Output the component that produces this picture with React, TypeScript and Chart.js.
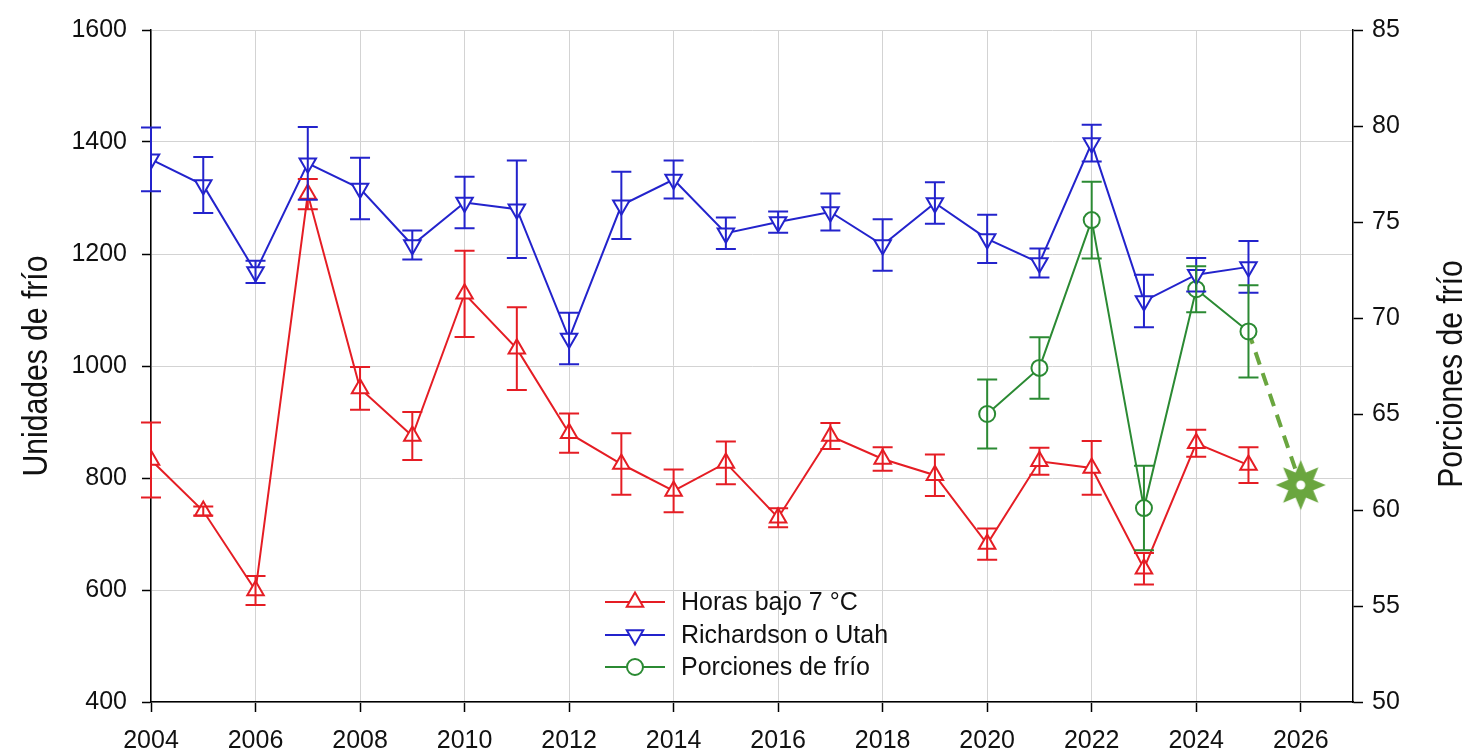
import { useEffect, useRef } from "react";
import { Chart, registerables } from "chart.js";

Chart.register(...registerables);

// Years of observation
const years = [
  2004, 2005, 2006, 2007, 2008, 2009, 2010, 2011, 2012, 2013, 2014,
  2015, 2016, 2017, 2018, 2019, 2020, 2021, 2022, 2023, 2024, 2025,
];

// Horas bajo 7 °C (left axis) and their error bars
const horasBajo7 = [
  832, 741, 599, 1307, 960, 875, 1129, 1031, 880, 825, 777,
  827, 729, 875, 834, 805, 682, 830, 818, 638, 862, 823,
];
const horasErr = [
  67, 8, 26, 27, 38, 43, 77, 74, 35, 55, 38,
  38, 17, 23, 21, 37, 28, 24, 48, 28, 24, 32,
];

// Richardson o Utah units (left axis) and their error bars
const richardson = [
  1369, 1323, 1168, 1362, 1317, 1216, 1292, 1280, 1049, 1287, 1333,
  1237, 1257, 1275, 1216, 1291, 1227, 1184, 1398, 1116, 1163, 1177,
];
const richardsonErr = [
  57, 50, 20, 65, 55, 26, 46, 87, 46, 60, 34,
  28, 19, 33, 46, 37, 43, 26, 33, 47, 30, 46,
];

// Porciones de frío (right axis) and their error bars
const porcionesYears = [2020, 2021, 2022, 2023, 2024, 2025];
const porciones = [65.0, 67.4, 75.1, 60.1, 71.5, 69.3];
const porcionesErr = [1.8, 1.6, 2.0, 2.2, 1.2, 2.4];

// Projection for the next season
const projectionYears = [2025, 2026];
const projection = [69.3, 61.3];

// Axis ranges and tick steps
const xRange = [2004, 2027];
const xStep = 2;
const leftRange = [400, 1600];
const leftStep = 200;
const rightRange = [50, 85];
const rightStep = 5;

// Text
const leftTitle = "Unidades de frío";
const rightTitle = "Porciones de frío";
const legendLabels = ["Horas bajo 7 °C", "Richardson o Utah", "Porciones de frío"];

const RED = "#e51d24";
const BLUE = "#2323cc";
const GREEN = "#2b8a33";
const LIGHT_GREEN = "#6aa63f";

const FONT = '"Liberation Sans", Arial, sans-serif';

const TRI_R = 9.5;
const CIRC_R = 8;

const toPoints = (xs: number[], ys: number[]) => xs.map((x, i) => ({ x, y: ys[i] }));

function makeStar(outer: number, inner: number, color: string): HTMLCanvasElement {
  const size = Math.ceil(outer * 2 + 4);
  const c = document.createElement("canvas");
  c.width = size;
  c.height = size;
  const g = c.getContext("2d")!;
  const cx = size / 2;
  const cy = size / 2;
  g.beginPath();
  for (let i = 0; i < 16; i++) {
    const r = i % 2 === 0 ? outer : inner;
    const a = -Math.PI / 2 + (i * Math.PI) / 8;
    const px = cx + r * Math.cos(a);
    const py = cy + r * Math.sin(a);
    if (i === 0) g.moveTo(px, py);
    else g.lineTo(px, py);
  }
  g.closePath();
  g.fillStyle = color;
  g.fill();
  g.beginPath();
  g.arc(cx, cy, 4.5, 0, Math.PI * 2);
  g.fillStyle = "#ffffff";
  g.fill();
  return c;
}

const errorBarPlugin = {
  id: "errorBars",
  afterDatasetsDraw(chart: any) {
    const ctx = chart.ctx;
    chart.data.datasets.forEach((ds: any, di: number) => {
      const errs: number[] | undefined = ds.errorBars;
      if (!errs) return;
      const meta = chart.getDatasetMeta(di);
      const yScale = chart.scales[meta.yAxisID];
      const cap = 10;
      ctx.save();
      ctx.strokeStyle = ds.borderColor;
      ctx.lineWidth = 2;
      meta.data.forEach((pt: any, i: number) => {
        const v = ds.data[i].y;
        const e = errs[i];
        const yTop = yScale.getPixelForValue(v + e);
        const yBot = yScale.getPixelForValue(v - e);
        const x = pt.x;
        ctx.beginPath();
        ctx.moveTo(x, yTop);
        ctx.lineTo(x, yBot);
        ctx.moveTo(x - cap, yTop);
        ctx.lineTo(x + cap, yTop);
        ctx.moveTo(x - cap, yBot);
        ctx.lineTo(x + cap, yBot);
        ctx.stroke();
      });
      ctx.restore();
    });
  },
};

// Axis titles, both reading upwards, in a condensed face
const axisTitlePlugin = {
  id: "axisTitles",
  afterDraw(chart: any) {
    const ctx = chart.ctx;
    const area = chart.chartArea;
    const midY = (area.top + area.bottom) / 2;
    ctx.save();
    ctx.fillStyle = "#111";
    ctx.font = `35px ${FONT}`;
    ctx.textAlign = "center";
    ctx.textBaseline = "alphabetic";
    const draw = (text: string, baselineX: number, cy: number) => {
      ctx.save();
      ctx.translate(baselineX, cy);
      ctx.rotate(-Math.PI / 2);
      ctx.scale(0.86, 1);
      ctx.fillText(text, 0, 0);
      ctx.restore();
    };
    draw(leftTitle, 47, midY);
    draw(rightTitle, 1462, midY + 8);
    ctx.restore();
  },
};

function drawMarker(ctx: CanvasRenderingContext2D, kind: string, x: number, y: number, color: string) {
  ctx.beginPath();
  if (kind === "circle") {
    ctx.arc(x, y, CIRC_R, 0, Math.PI * 2);
  } else {
    const r = TRI_R;
    const dir = kind === "up" ? -1 : 1;
    for (let k = 0; k < 3; k++) {
      const a = (k * 2 * Math.PI) / 3;
      const px = x + Math.sin(a) * r;
      const py = y + dir * Math.cos(a) * r;
      if (k === 0) ctx.moveTo(px, py);
      else ctx.lineTo(px, py);
    }
    ctx.closePath();
  }
  ctx.fillStyle = "#fff";
  ctx.fill();
  ctx.strokeStyle = color;
  ctx.lineWidth = 2;
  ctx.stroke();
}

const legendPlugin = {
  id: "insideLegend",
  afterDraw(chart: any) {
    const ctx = chart.ctx;
    const items = [
      { label: legendLabels[0], color: RED, kind: "up" },
      { label: legendLabels[1], color: BLUE, kind: "down" },
      { label: legendLabels[2], color: GREEN, kind: "circle" },
    ];
    const x0 = 605;
    const x1 = 665;
    const tx = 681;
    const rows = [602, 635, 667];
    ctx.save();
    ctx.font = `25px ${FONT}`;
    ctx.textBaseline = "middle";
    ctx.textAlign = "left";
    items.forEach((it, i) => {
      const y = rows[i];
      ctx.beginPath();
      ctx.moveTo(x0, y);
      ctx.lineTo(x1, y);
      ctx.strokeStyle = it.color;
      ctx.lineWidth = 2;
      ctx.stroke();
      drawMarker(ctx, it.kind, (x0 + x1) / 2, y, it.color);
      ctx.fillStyle = "#111";
      ctx.fillText(it.label, tx, y + 1);
    });
    ctx.restore();
  },
};

export default function App() {
  const canvasRef = useRef<HTMLCanvasElement | null>(null);

  useEffect(() => {
    const canvas = canvasRef.current;
    if (!canvas) return;
    const star = makeStar(25, 13.5, LIGHT_GREEN);

    const tickFont = { family: FONT, size: 25 };

    const chart = new Chart(canvas, {
      type: "line",
      data: {
        datasets: [
          {
            label: legendLabels[0],
            data: toPoints(years, horasBajo7),
            yAxisID: "y",
            borderColor: RED,
            backgroundColor: "#fff",
            borderWidth: 2,
            pointStyle: "triangle",
            pointRadius: TRI_R,
            pointBorderWidth: 2,
            pointBackgroundColor: "#fff",
            pointBorderColor: RED,
            tension: 0,
            errorBars: horasErr,
          } as any,
          {
            label: legendLabels[1],
            data: toPoints(years, richardson),
            yAxisID: "y",
            borderColor: BLUE,
            backgroundColor: "#fff",
            borderWidth: 2,
            pointStyle: "triangle",
            pointRotation: 180,
            pointRadius: TRI_R,
            pointBorderWidth: 2,
            pointBackgroundColor: "#fff",
            pointBorderColor: BLUE,
            tension: 0,
            errorBars: richardsonErr,
          } as any,
          {
            label: legendLabels[2],
            data: toPoints(porcionesYears, porciones),
            yAxisID: "y1",
            borderColor: GREEN,
            backgroundColor: "#fff",
            borderWidth: 2,
            pointStyle: "circle",
            pointRadius: CIRC_R,
            pointBorderWidth: 2,
            pointBackgroundColor: "#fff",
            pointBorderColor: GREEN,
            tension: 0,
            errorBars: porcionesErr,
          } as any,
          {
            label: "Proyección",
            data: toPoints(projectionYears, projection),
            yAxisID: "y1",
            borderColor: LIGHT_GREEN,
            borderWidth: 4,
            borderDash: [13, 9],
            pointStyle: [false, star] as any,
            pointRadius: [0, 12],
            pointHitRadius: 0,
            tension: 0,
          } as any,
        ],
      },
      options: {
        responsive: false,
        animation: false,
        devicePixelRatio: 1,
        layout: { padding: { top: 27, left: 0, right: 0, bottom: 0 } },
        plugins: {
          legend: { display: false },
          tooltip: { enabled: false },
          title: { display: false },
        },
        scales: {
          x: {
            type: "linear",
            min: xRange[0],
            max: xRange[1],
            ticks: {
              stepSize: xStep,
              includeBounds: false,
              autoSkip: false,
              maxRotation: 0,
              font: tickFont,
              color: "#111",
              padding: 14,
              callback: (v: any) => String(v),
            },
            grid: {
              color: "#d3d3d3",
              lineWidth: 1,
              tickColor: "#000",
              tickLength: 10,
              tickWidth: 1.5,
            },
            border: { color: "#000", width: 1.5 },
            afterFit: (s: any) => {
              s.height = 52;
            },
          },
          y: {
            type: "linear",
            position: "left",
            min: leftRange[0],
            max: leftRange[1],
            ticks: {
              stepSize: leftStep,
              font: tickFont,
              color: "#111",
              padding: 15,
              callback: (v: any) => String(v),
            },
            grid: {
              color: "#d3d3d3",
              lineWidth: 1,
              tickColor: "#000",
              tickLength: 9,
              tickWidth: 1.5,
            },
            border: { color: "#000", width: 1.5 },
            afterFit: (s: any) => {
              s.width = 151;
            },
          },
          y1: {
            type: "linear",
            position: "right",
            min: rightRange[0],
            max: rightRange[1],
            ticks: {
              stepSize: rightStep,
              font: tickFont,
              color: "#111",
              padding: 9,
              callback: (v: any) => String(v),
            },
            grid: {
              drawOnChartArea: false,
              tickColor: "#000",
              tickLength: 10,
              tickWidth: 1.5,
            },
            border: { color: "#000", width: 1.5 },
            afterFit: (s: any) => {
              s.width = 114;
            },
          },
        },
      } as any,
      plugins: [errorBarPlugin, axisTitlePlugin, legendPlugin],
    });

    return () => {
      chart.destroy();
    };
  }, []);

  return (
    <div style={{ position: "fixed", left: 0, top: 0, width: 1467, height: 754, background: "#fff" }}>
      <canvas ref={canvasRef} width={1467} height={754} />
    </div>
  );
}
